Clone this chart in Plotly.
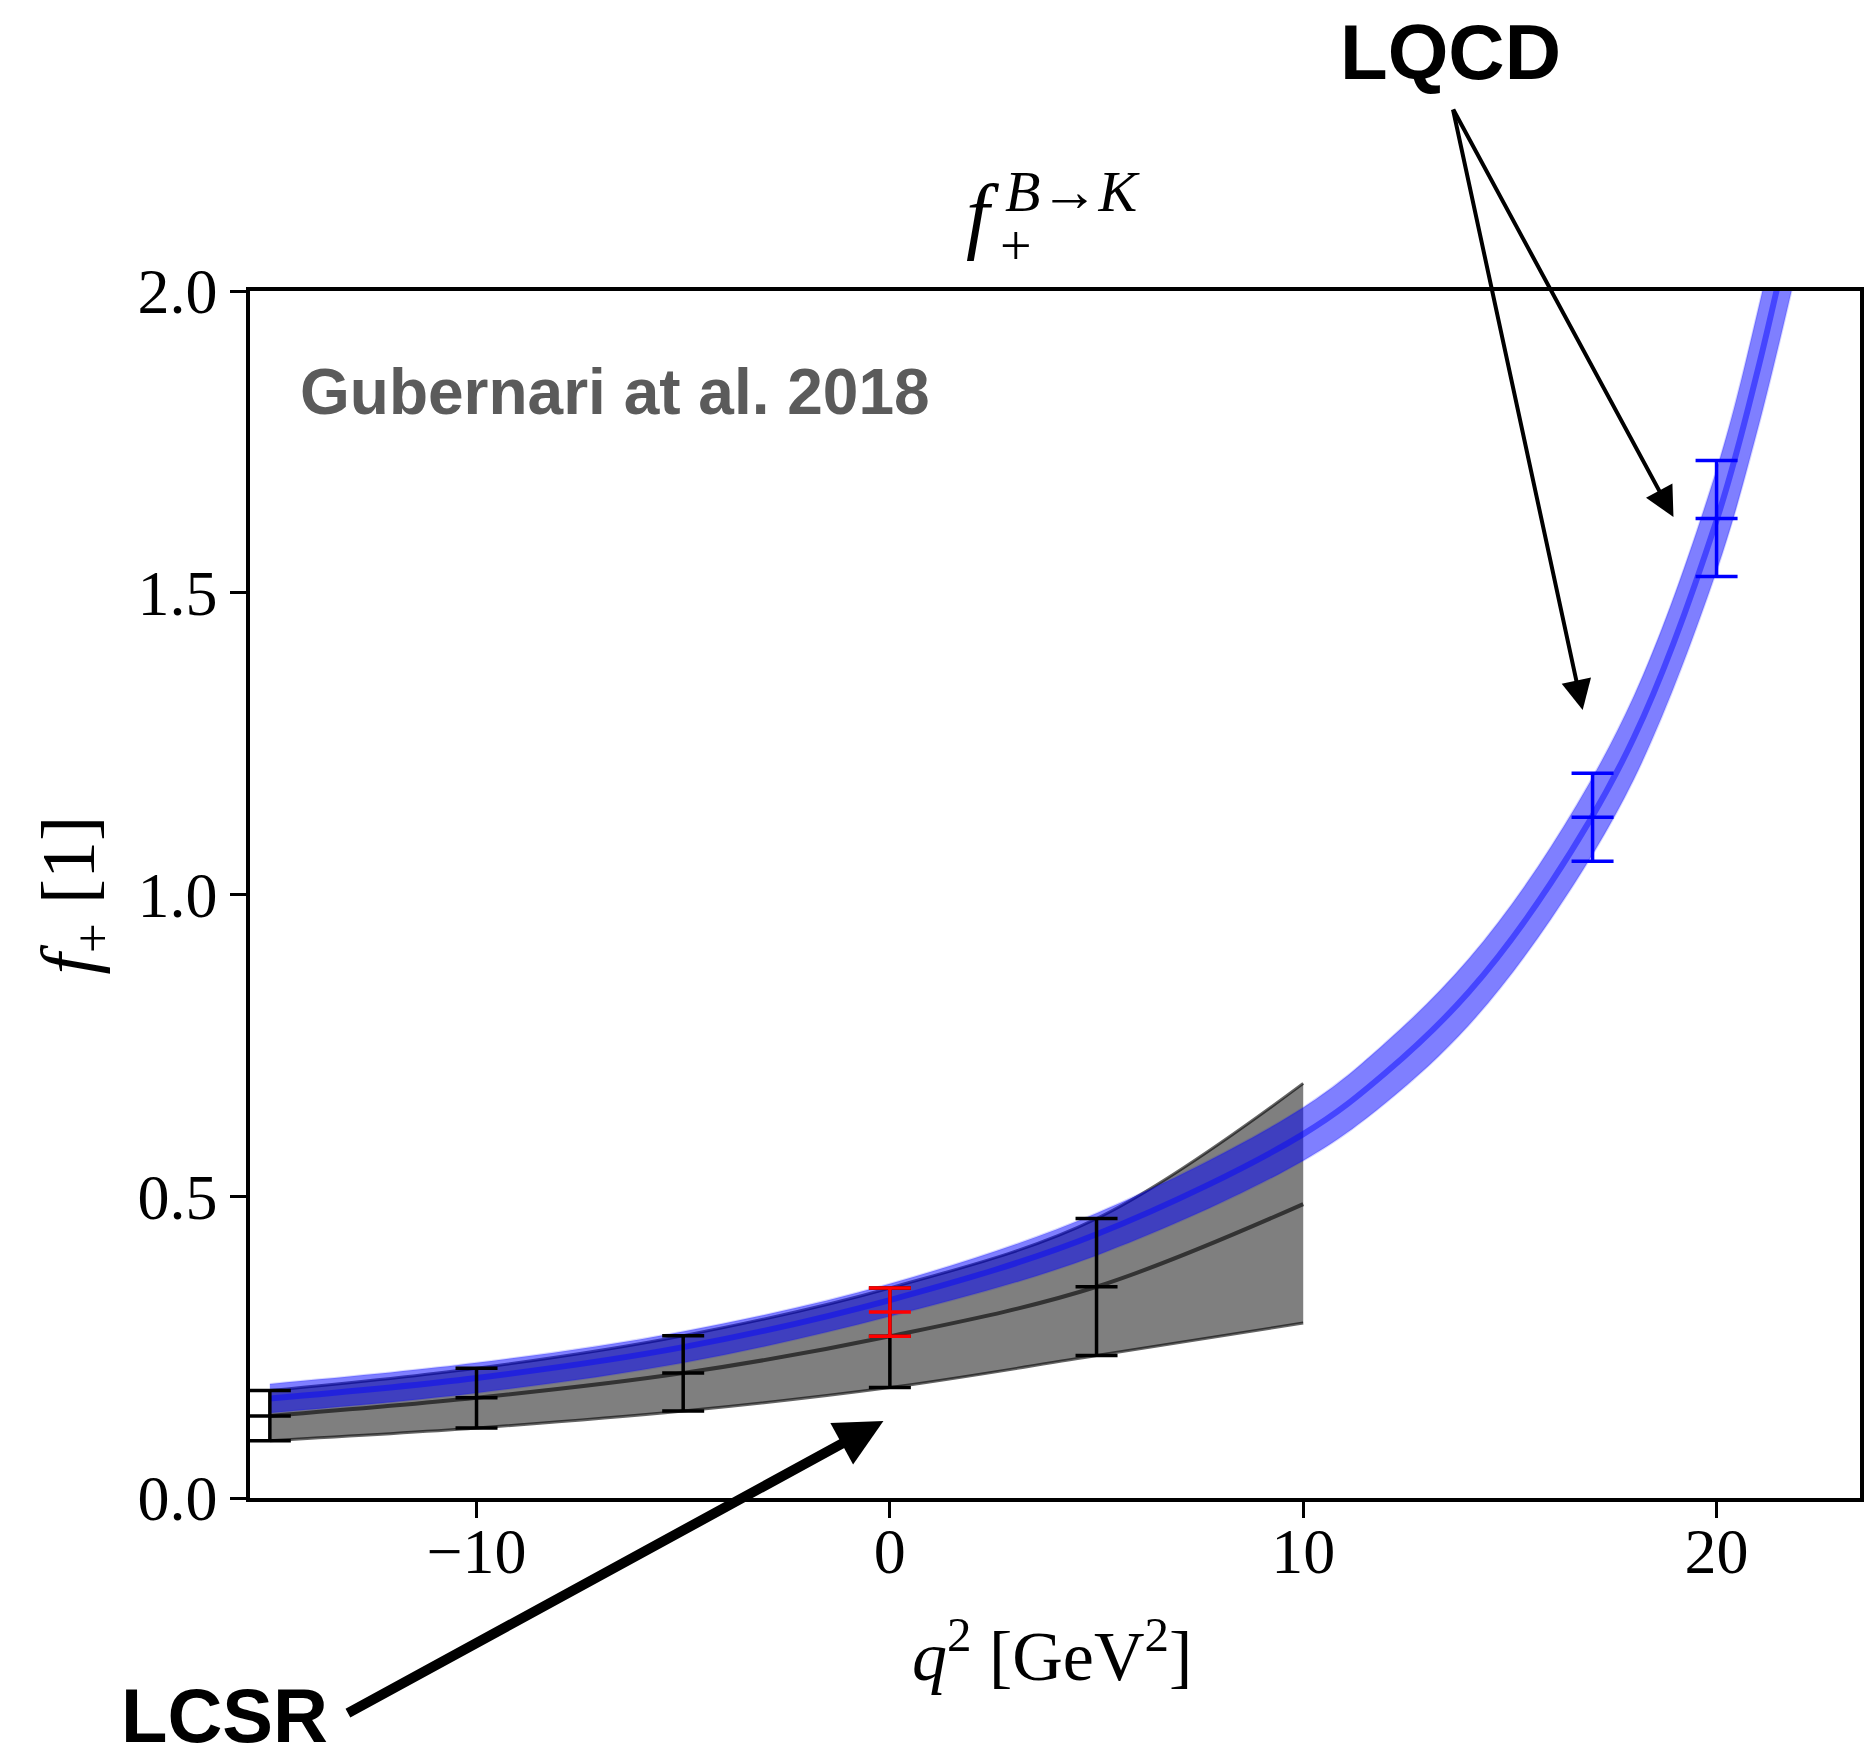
import plotly.graph_objects as go

# ---------------------------------------------------------------------------
# B -> K vector form factor f_+(q^2)
# ---------------------------------------------------------------------------

# LCSR band (Gubernari et al. 2018)
lcsr_q2 = [-15, -10, -5, 0, 5, 10]
lcsr_upper = [0.178, 0.215, 0.269, 0.348, 0.463, 0.687]
lcsr_central = [0.136, 0.166, 0.207, 0.268, 0.350, 0.487]
lcsr_lower = [0.095, 0.116, 0.144, 0.183, 0.236, 0.290]

# LCSR points with uncertainties (first five nodes of the band)
lcsr_pt_q2 = [-15, -10, -5, 0, 5]
lcsr_pt_val = [0.136, 0.166, 0.207, 0.268, 0.350]
lcsr_pt_hi = [0.178, 0.215, 0.269, 0.348, 0.463]
lcsr_pt_lo = [0.095, 0.116, 0.144, 0.183, 0.236]

# q^2 = 0 point (red)
zero_q2 = [0]
zero_val = [0.308]
zero_err = [0.040]

# Lattice QCD points
lqcd_q2 = [17, 20]
lqcd_val = [1.128, 1.623]
lqcd_err = [0.073, 0.096]

# Combined fit band (central value and half width)
fit_q2 = [-15, -10, -5, 0, 5, 10, 12, 14, 16, 18, 20, 21, 22]
fit_central = [0.165, 0.199, 0.250, 0.328, 0.437, 0.603, 0.705, 0.838,
               1.020, 1.260, 1.620, 1.870, 2.170]
fit_halfwidth = [0.024, 0.025, 0.026, 0.027, 0.035, 0.044, 0.050, 0.055,
                 0.060, 0.069, 0.084, 0.098, 0.115]

x_ticks = [-10, 0, 10, 20]
y_ticks = [0.0, 0.5, 1.0, 1.5, 2.0]

# ---------------------------------------------------------------------------
W, H = 1870, 1758
ML, MR, MT, MB = 250, 6, 291, 260
PW, PH = W - ML - MR, H - MT - MB


def px(x):
    return (x - ML) / PW


def py(y):
    return (H - MB - y) / PH


SERIF = "Liberation Serif"
SANS = "Liberation Sans"

fig = go.Figure()

# LCSR band: fill between lower and upper edges
fig.add_trace(go.Scatter(x=lcsr_q2, y=lcsr_lower, mode="lines",
                         line=dict(color="rgba(0,0,0,0.6)", width=3, shape="spline"),
                         hoverinfo="skip", showlegend=False))
fig.add_trace(go.Scatter(x=lcsr_q2, y=lcsr_upper, mode="lines", fill="tonexty",
                         fillcolor="rgba(0,0,0,0.5)",
                         line=dict(color="rgba(0,0,0,0.6)", width=3, shape="spline"),
                         hoverinfo="skip", showlegend=False))
fig.add_trace(go.Scatter(x=lcsr_q2, y=lcsr_central, mode="lines",
                         line=dict(color="rgba(0,0,0,0.6)", width=4, shape="spline"),
                         hoverinfo="skip", showlegend=False))

# Fit band
fit_lower = [c - h for c, h in zip(fit_central, fit_halfwidth)]
fit_upper = [c + h for c, h in zip(fit_central, fit_halfwidth)]
fig.add_trace(go.Scatter(x=fit_q2, y=fit_lower, mode="lines",
                         line=dict(color="rgba(0,0,255,0.15)", width=2, shape="spline"),
                         hoverinfo="skip", showlegend=False))
fig.add_trace(go.Scatter(x=fit_q2, y=fit_upper, mode="lines", fill="tonexty",
                         fillcolor="rgba(0,0,255,0.5)",
                         line=dict(color="rgba(0,0,255,0.15)", width=2, shape="spline"),
                         hoverinfo="skip", showlegend=False))
fig.add_trace(go.Scatter(x=fit_q2, y=fit_central, mode="lines",
                         line=dict(color="rgba(0,0,255,0.45)", width=6, shape="spline"),
                         hoverinfo="skip", showlegend=False))


def points(xs, ys, up, down, color):
    return go.Scatter(
        x=xs, y=ys, mode="markers",
        marker=dict(symbol="line-ew", size=30, color=color,
                    line=dict(color=color, width=3.5)),
        error_y=dict(type="data", symmetric=False, array=up, arrayminus=down,
                     color=color, thickness=3.5, width=21),
        hoverinfo="skip", showlegend=False)


fig.add_trace(points(lcsr_pt_q2, lcsr_pt_val,
                     [h - v for h, v in zip(lcsr_pt_hi, lcsr_pt_val)],
                     [v - lo for v, lo in zip(lcsr_pt_val, lcsr_pt_lo)], "black"))
fig.add_trace(points(zero_q2, zero_val, zero_err, zero_err, "red"))
fig.add_trace(points(lqcd_q2, lqcd_val, lqcd_err, lqcd_err, "blue"))

axis_common = dict(
    showgrid=False, zeroline=False, showline=True, linecolor="black",
    linewidth=3.5, mirror=True, ticks="outside", ticklen=16, tickwidth=2.5,
    tickcolor="black", tickfont=dict(family=SERIF, size=64, color="black"),
)

fig.update_xaxes(range=[-15.48, 23.47], tickvals=x_ticks, ticklabelstandoff=-22,
                 **axis_common)
fig.update_yaxes(range=[0, 2], tickvals=y_ticks, tickformat=".1f", **axis_common)

annotations = [
    # title f_+^{B->K}
    dict(text="<i>f</i>", x=px(1004), y=py(214), xanchor="right", yanchor="middle",
         font=dict(family=SERIF, size=84, color="black")),
    dict(text="+", x=px(1018), y=py(246), xanchor="center", yanchor="middle",
         font=dict(family=SERIF, size=56, color="black")),
    dict(text="<i>B</i>→<i>K</i>", x=px(1005), y=py(191), xanchor="left",
         yanchor="middle", font=dict(family=SERIF, size=58, color="black")),
    # axis titles
    dict(text="<i>q</i><sup>2</sup> [GeV<sup>2</sup>]", x=px(1054), y=py(1651),
         xanchor="center", yanchor="middle",
         font=dict(family=SERIF, size=70, color="black")),
    dict(text="<i>f</i><sub>+</sub> [1]", x=px(74), y=py(895), textangle=-90,
         xanchor="center", yanchor="middle",
         font=dict(family=SERIF, size=76, color="black")),
    # source label
    dict(text="Gubernari at al. 2018", x=px(298), y=py(392), xanchor="left",
         yanchor="middle",
         font=dict(family=SANS, size=64, color="#5b5b5b", weight="bold")),
    # method labels
    dict(text="LQCD", x=px(1453), y=py(52), xanchor="center", yanchor="middle",
         font=dict(family=SANS, size=78, color="black", weight="bold")),
    dict(text="LCSR", x=px(224), y=py(1716), xanchor="center", yanchor="middle",
         font=dict(family=SANS, size=76, color="black", weight="bold")),
    # arrows
    dict(text="", x=px(1586), y=py(710), ax=1456 - 1586, ay=108 - 710,
         showarrow=True, arrowhead=2, arrowsize=1.5, arrowwidth=4,
         arrowcolor="black"),
    dict(text="", x=px(1677), y=py(517), ax=1456 - 1677, ay=108 - 517,
         showarrow=True, arrowhead=2, arrowsize=1.5, arrowwidth=4,
         arrowcolor="black"),
    dict(text="", x=px(885), y=py(1421), ax=348 - 885, ay=1714 - 1421,
         showarrow=True, arrowhead=2, arrowsize=0.95, arrowwidth=10,
         arrowcolor="black"),
]
for a in annotations:
    a.setdefault("showarrow", False)
    a["xref"] = "paper"
    a["yref"] = "paper"

fig.update_layout(
    width=W, height=H,
    margin=dict(l=ML, r=MR, t=MT, b=MB, pad=0),
    plot_bgcolor="white", paper_bgcolor="white",
    showlegend=False,
    annotations=annotations,
)

fig.write_html("out.html")
